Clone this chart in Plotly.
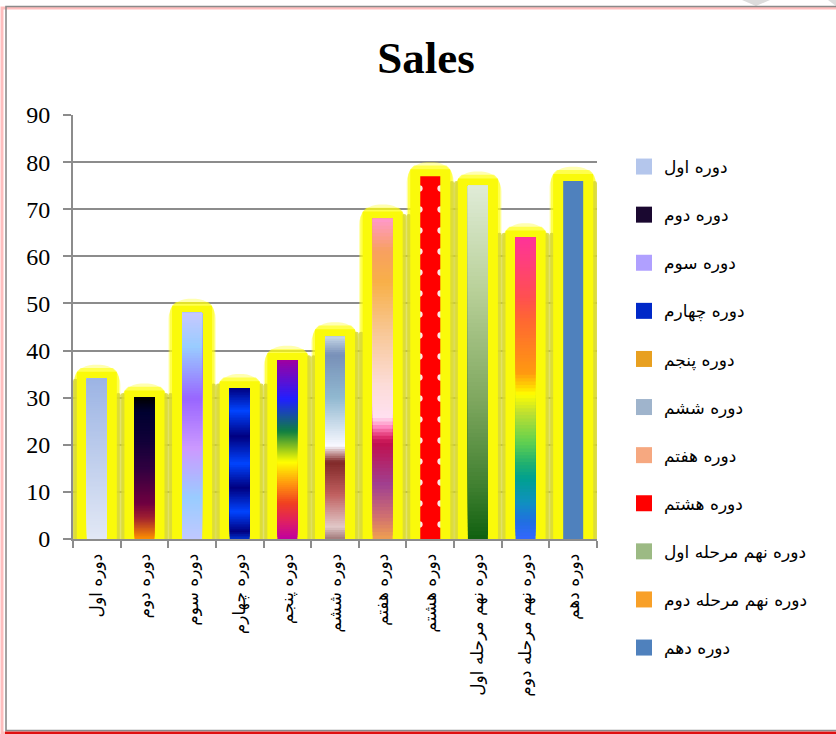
import plotly.graph_objects as go
import numpy as np

# ---------------- data ----------------
categories = ["دوره اول", "دوره دوم", "دوره سوم", "دوره چهارم", "دوره پنجم", "دوره ششم",
              "دوره هفتم", "دوره هشتم", "دوره نهم مرحله اول", "دوره نهم مرحله دوم", "دوره دهم"]
sales = [34, 30, 48, 32, 38, 43, 68, 77, 75, 64, 76]
y_ticks = [0, 10, 20, 30, 40, 50, 60, 70, 80, 90]

# ---------------- styles ----------------
# gradient stops listed from top (0) to bottom (1)
gradients = [
    [(0, "#9cb4e4"), (1, "#e2e8f5")],
    [(0, "#000000"), (0.1, "#000030"), (0.3, "#100038"), (0.5, "#300040"), (0.75, "#700040"),
     (0.85, "#a02030"), (1, "#ff9000")],
    [(0, "#c8c8ff"), (0.15, "#99ccff"), (0.38, "#9966ff"), (0.6, "#cc99ff"), (0.82, "#99ccff"), (1, "#c0c8ff")],
    [(0, "#000080"), (0.15, "#0044ff"), (0.32, "#000080"), (0.5, "#0044ff"), (0.66, "#000080"),
     (0.82, "#0044ff"), (0.95, "#000080"), (1, "#0033cc")],
    [(0, "#a000a0"), (0.22, "#2020ff"), (0.4, "#108040"), (0.57, "#ffff00"), (0.7, "#ff9010"),
     (0.8, "#f04020"), (0.9, "#e02060"), (1, "#c000a0")],
    [(0, "#c8d8e8"), (0.09, "#7890b8"), (0.3, "#90b8d0"), (0.54, "#f8f8ff"), (0.58, "#c09090"),
     (0.62, "#802828"), (0.78, "#c06060"), (0.94, "#e0c8c8"), (1, "#a07878")],
    [(0, "#ff99cc"), (0.1, "#f8a060"), (0.2, "#f8b048"), (0.36, "#f8c898"), (0.52, "#fcdcd8"),
     (0.62, "#ffe0f0"), (0.65, "#ff88c0"), (0.68, "#e03070"), (0.7, "#c0104f"), (0.83, "#a04090"),
     (0.93, "#d07070"), (1, "#f0a050")],
    None,
    [(0, "#e0ecd8"), (0.3, "#b8d098"), (0.6, "#80a860"), (0.85, "#408030"), (1, "#106010")],
    [(0, "#ff3399"), (0.2, "#ff5050"), (0.27, "#ff6633"), (0.45, "#ff9910"), (0.5, "#ffdd00"),
     (0.52, "#ffff00"), (0.58, "#c0e030"), (0.68, "#60d050"), (0.75, "#20b070"), (0.8, "#00a090"),
     (0.88, "#1090c0"), (0.94, "#2070e0"), (1, "#3366ff")],
    None,
]
solid_colors = [None] * 7 + ["#ff0000", None, None, "#4f81bd"]
legend_colors = ["#b4c6ec", "#1a0830", "#b0a0ff", "#0028c8", "#e8a020", "#9fb4cc",
                 "#f6a880", "#ff0000", "#9cba84", "#f8a028", "#4f81bd"]

def hex2rgb(h):
    h = h.lstrip("#")
    return np.array([int(h[i:i + 2], 16) for i in (0, 2, 4)], dtype=float)

def color_at(stops, t):
    for (p0, c0), (p1, c1) in zip(stops[:-1], stops[1:]):
        if p0 <= t <= p1:
            f = 0 if p1 == p0 else (t - p0) / (p1 - p0)
            c = hex2rgb(c0) * (1 - f) + hex2rgb(c1) * f
            return "rgb(%d,%d,%d)" % tuple(c.round())
    return stops[-1][1]

fig = go.Figure()

# ---- glow (derived from the sales values) ----
n = len(sales)
fig.add_trace(go.Bar(x=categories, y=[v + 3.0 for v in sales], width=0.99,
                     marker=dict(color="rgba(255,255,30,0.35)", line=dict(width=0), cornerradius=20),
                     showlegend=False, hoverinfo="skip"))
fig.add_trace(go.Bar(x=categories, y=[v + 2.3 for v in sales], width=0.94,
                     marker=dict(color="rgba(255,255,10,0.6)", line=dict(width=0), cornerradius=16),
                     showlegend=False, hoverinfo="skip"))
left_h = [min(sales[i], sales[i - 1]) + 1.0 if i > 0 else sales[i] for i in range(n)]
right_h = [min(sales[i], sales[i + 1]) + 1.0 if i < n - 1 else sales[i] for i in range(n)]
fig.add_trace(go.Bar(x=categories, y=left_h, width=0.10, offset=-0.5,
                     marker=dict(color="rgba(212,212,48,0.8)", line=dict(width=0), cornerradius=3),
                     showlegend=False, hoverinfo="skip"))
fig.add_trace(go.Bar(x=categories, y=right_h, width=0.10, offset=0.40,
                     marker=dict(color="rgba(212,212,48,0.8)", line=dict(width=0), cornerradius=3),
                     showlegend=False, hoverinfo="skip"))
fig.add_trace(go.Bar(x=categories, y=[v + 1.5 for v in sales], width=0.84,
                     marker=dict(color="#fafa0a", line=dict(width=0), cornerradius=9),
                     showlegend=False, hoverinfo="skip"))

N = 90
bar_w = 0.42
for i, (cat, v) in enumerate(zip(categories, sales)):
    grp = "g%d" % i
    if gradients[i] is not None:
        ks = np.arange(N)
        bases = [v * k / N for k in ks]
        cols = [color_at(gradients[i], 1 - (k + 0.5) / N) for k in ks]
        fig.add_trace(go.Bar(x=[cat] * N, y=[v - b for b in bases], base=bases, width=bar_w,
                             marker=dict(color=cols, line=dict(width=0)),
                             showlegend=False, legendgroup=grp, hoverinfo="skip"))
    else:
        mk = dict(color=solid_colors[i], line=dict(width=0))
        if i == 7:
            mk["pattern"] = dict(shape=".", fgcolor="#ffffff", fgopacity=0.9, size=21,
                                 solidity=0.07, fillmode="overlay")
        fig.add_trace(go.Bar(x=[cat], y=[v], width=bar_w, showlegend=False, legendgroup=grp,
                             marker=mk, hoverinfo="skip"))
    # legend entry (square swatch)
    fig.add_trace(go.Scatter(x=[cat], y=[None], mode="markers", name=cat, legendgroup=grp,
                             marker=dict(symbol="square", size=16, color=legend_colors[i],
                                         line=dict(width=0))))

W, H = 836, 734
L, R, T, B = 73, 239, 115, 195
pw, ph = W - L - R, H - T - B

def px2x(px):
    return (px - L) / pw

def py2y(py):
    return (H - B - py) / ph

fig.update_layout(
    width=W, height=H,
    margin=dict(l=L, r=R, t=T, b=B, autoexpand=False),
    paper_bgcolor="white", plot_bgcolor="white",
    barmode="overlay",
    title=dict(text="<b>Sales</b>", x=426 / W, xanchor="center", y=1 - 57 / H, yanchor="middle",
               font=dict(family="Liberation Serif", size=45, color="black")),
    legend=dict(x=px2x(624), xanchor="left", y=py2y(149), yanchor="top",
                traceorder="grouped", tracegroupgap=23.0, maxheight=620,
                font=dict(family="DejaVu Sans", size=17, color="black"),
                bgcolor="rgba(0,0,0,0)"),
    font=dict(family="DejaVu Sans"),
    shapes=[
        dict(type="path", xref="paper", yref="paper",
             path="M %f,%f L %f,%f L %f,%f Z" % (px2x(742), py2y(0), px2x(770), py2y(0), px2x(756), py2y(6)),
             fillcolor="#dcdcdc", line=dict(width=0), layer="below"),
        dict(type="path", xref="paper", yref="paper",
             path="M %f,%f L %f,%f L %f,%f Z" % (px2x(828), py2y(0), px2x(836), py2y(0), px2x(836), py2y(6)),
             fillcolor="#dcdcdc", line=dict(width=0), layer="below"),
        dict(type="rect", xref="paper", yref="paper", x0=px2x(2), x1=px2x(845), y0=py2y(733), y1=py2y(8),
             line=dict(color="rgba(255,110,110,0.45)", width=3), layer="below"),
        dict(type="line", xref="paper", yref="paper", x0=px2x(5), x1=px2x(845), y0=py2y(733), y1=py2y(733),
             line=dict(color="#e01010", width=3), layer="below"),
        dict(type="rect", xref="paper", yref="paper", x0=px2x(6), x1=px2x(845), y0=py2y(730.5), y1=py2y(6.5),
             line=dict(color="#8a8a8a", width=1.6), layer="below"),
    ],
)

fig.update_yaxes(range=[0, 90], tickvals=y_ticks, ticktext=[str(t) for t in y_ticks],
                 showgrid=True, gridcolor="#8c8c8c", gridwidth=1.6,
                 showline=True, linecolor="#8c8c8c", linewidth=2,
                 ticks="outside", ticklen=8, tickcolor="#8c8c8c", tickwidth=2,
                 ticklabelstandoff=8,
                 tickfont=dict(family="Liberation Serif", size=24, color="black"),
                 zeroline=False, fixedrange=True)
fig.update_xaxes(type="category", categoryorder="array", categoryarray=categories,
                 range=[-0.5, len(categories) - 0.5],
                 showline=True, linecolor="#8c8c8c", linewidth=2,
                 ticks="outside", tickson="boundaries", ticklen=7, tickcolor="#8c8c8c", tickwidth=2,
                 tickangle=-90, ticklabelstandoff=6,
                 tickfont=dict(family="DejaVu Sans", size=17, color="black"),
                 showgrid=False, fixedrange=True)

fig.write_html("out.html", config={"displayModeBar": False},
               post_script="document.body.style.margin='0';document.body.style.padding='0';")
